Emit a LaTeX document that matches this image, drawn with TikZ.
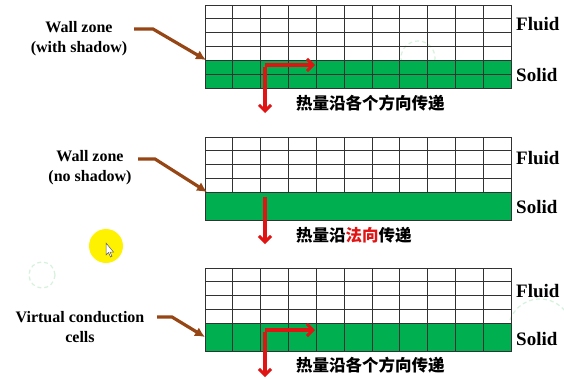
\documentclass[tikz,border=0pt]{standalone}
\usepackage{fontspec}
\setmainfont{Liberation Serif}
\newfontfamily\cjk{Noto Sans CJK SC}
\usetikzlibrary{arrows.meta}
\definecolor{solidgreen}{RGB}{0,176,80}
\definecolor{brownarr}{RGB}{150,70,20}
\definecolor{redarr}{RGB}{225,20,20}
\definecolor{gridgray}{RGB}{50,50,50}
\definecolor{ghost}{RGB}{215,242,220}
\tikzset{
  gridline/.style={draw=gridgray,line width=0.8pt},
  solidbox/.style={fill=solidgreen,draw=gridgray,line width=0.8pt,minimum width=306pt,minimum height=28pt,anchor=north west,inner sep=0pt,outer sep=0pt},
  fluidbox/.style={draw=gridgray,line width=0.8pt,minimum width=306pt,minimum height=55pt,anchor=north west,inner sep=0pt,outer sep=0pt},
  sidelabel/.style={font=\fontsize{19}{21}\selectfont\bfseries,anchor=west,inner sep=0pt},
  walllabel/.style={font=\fontsize{16}{20}\selectfont\bfseries,align=center,inner sep=0pt},
  cntext/.style={font=\fontsize{16.5}{18}\selectfont\cjk\bfseries,anchor=west,inner sep=0pt},
  pointer/.style={draw=brownarr,line width=3.2pt,-{Latex[length=10pt,width=10pt]}},
  heat/.style={draw=redarr,line width=3.2pt,-{Straight Barb[length=6pt,width=12pt,line width=3pt]}},
  ghostring/.style={draw=ghost,line width=1.2pt,dash pattern=on 4pt off 3pt}
}
\begin{document}
\begin{tikzpicture}[x=1pt,y=-1pt]
\useasboundingbox (0,0) rectangle (564,378);
\fill[white] (0,0) rectangle (564,378);
% faint recording artefacts
\draw[ghostring] (42,275) circle (13);
\draw[ghostring] (418,58) circle (17);
\draw[ghostring] (510,320) arc (200:330:32);
% ================= panel 1 =================
\begin{scope}[shift={(0,5)}]
  \node[fluidbox] (f1) at (205,0) {};
  \node[solidbox] (s1) at (205,55) {};
  \foreach \i in {1,...,10} \draw[gridline] ({205+\i*27.818},0) -- ({205+\i*27.818},83);
  \foreach \j in {1,2,3} \draw[gridline] (205,{\j*13.75}) -- (511,{\j*13.75});
  \draw[gridline] (205,69) -- (511,69);
  \node[sidelabel] (fl1) at (516,19) {Fluid};
  \node[sidelabel] (so1) at (516,70) {Solid};
  \node[walllabel] (w1) at (79,34) {Wall zone\\(with shadow)};
  \coordinate (a1) at (134,24);
  \coordinate (b1) at (153,24);
  \draw[pointer] (a1) -- (b1) -- ([xshift=1pt]s1.north west);
  \coordinate (c1) at (265,60);
  \coordinate (h1) at (315,60);
  \coordinate (v1) at (265,108);
  \draw[heat] (c1) -- (h1);
  \draw[heat] ([yshift=-1.6pt]c1) -- (v1);
  \node[cntext] (t1) at (296,98) {热量沿各个方向传递};
\end{scope}
% ================= panel 2 =================
\begin{scope}[shift={(0,137)}]
  \node[fluidbox] (f2) at (205,0) {};
  \node[solidbox] (s2) at (205,55) {};
  \foreach \i in {1,...,10} \draw[gridline] ({205+\i*27.818},0) -- ({205+\i*27.818},55);
  \foreach \j in {1,2,3} \draw[gridline] (205,{\j*13.75}) -- (511,{\j*13.75});
  \node[sidelabel] (fl2) at (516,21) {Fluid};
  \node[sidelabel] (so2) at (516,70) {Solid};
  \node[walllabel] (w2) at (90,31) {Wall zone\\(no shadow)};
  \coordinate (a2) at (138,22);
  \coordinate (b2) at (155,22);
  \draw[pointer] (a2) -- (b2) -- ([xshift=2pt]s2.north west);
  \coordinate (c2) at (265,60);
  \coordinate (v2) at (265,107);
  \draw[heat] (c2) -- (v2);
  \node[cntext] (t2) at (296,98) {热量沿{\color{redarr}法向}传递};
\end{scope}
% ================= panel 3 =================
\begin{scope}[shift={(0,268)}]
  \node[fluidbox] (f3) at (205,0) {};
  \node[solidbox] (s3) at (205,55) {};
  \foreach \i in {1,...,10} \draw[gridline] ({205+\i*27.818},0) -- ({205+\i*27.818},83);
  \foreach \j in {1,2,3} \draw[gridline] (205,{\j*13.75}) -- (511,{\j*13.75});
  \node[sidelabel] (fl3) at (516,23) {Fluid};
  \node[sidelabel] (so3) at (516,71) {Solid};
  \node[walllabel] (w3) at (80,59) {Virtual conduction\\cells};
  \coordinate (a3) at (157,49);
  \coordinate (b3) at (172,49);
  \draw[pointer] (a3) -- (b3) -- (s3.west);
  \coordinate (c3) at (265,62);
  \coordinate (h3) at (315,62);
  \coordinate (v3) at (265,109);
  \draw[heat] (c3) -- (h3);
  \draw[heat] ([yshift=-1.6pt]c3) -- (v3);
  \node[cntext] (t3) at (296,97) {热量沿各个方向传递};
\end{scope}
% cursor highlight
\fill[yellow] (106,246) circle (17);
\draw[fill=white,draw=gray!70!black,line width=0.5pt] (106,243) -- (106,255) -- (108.5,252.5) -- (110.5,257) -- (112,256.3) -- (110,252) -- (113.5,252) -- cycle;
\end{tikzpicture}
\end{document}
